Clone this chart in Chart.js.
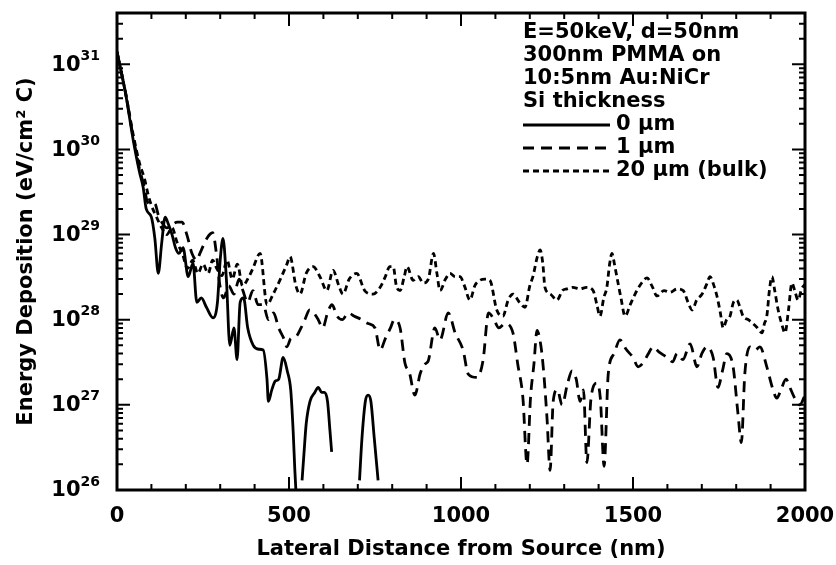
<!DOCTYPE html>
<html>
<head>
<meta charset="utf-8">
<script src="https://cdn.jsdelivr.net/npm/chart.js@4"></script>
<style>
  html, body { margin: 0; padding: 0; background: #fff; }
  #chart { display: block; }
</style>
</head>
<body>
<canvas id="chart" width="836" height="565"></canvas>
<script>
// lateral distance (nm) and energy deposition (eV/cm^2 C)
const seriesLabels = ['0 \u00b5m', '1 \u00b5m', '20 \u00b5m (bulk)'];

const si0X = [0, 25, 47, 65, 76, 85, 100, 110, 120, 130, 140, 150, 160, 170, 180, 192, 207, 221, 232, 245, 260, 279, 292, 300, 308, 318, 328, 340, 349, 358, 368, 380, 396, 412, 425, 436, 440, 450, 460, 470, 483, 495, 505, 512, 517, 524,
  530, 538, 543, 550, 561, 575, 585, 595, 603, 612, 619, 624,
  660, 705, 712, 722, 730, 738, 748, 759];
const si0Y = [1.4e31, 4.5e30, 1.3e30, 5.5e29, 3.6e29, 2.0e29, 1.6e29, 9e28, 3.5e28, 8e28, 1.6e29, 1.3e29, 1.0e29, 7e28, 6e28, 7e28, 3.2e28, 4.6e28, 1.6e28, 1.8e28, 1.4e28, 1.05e28, 1.6e28, 5e28, 9e28, 3e28, 5e27, 8e27, 3.4e27, 1.6e28, 1.8e28, 8e27, 5e27, 4.5e27, 4.4e27, 2e27, 1.1e27, 1.5e27, 1.9e27, 2e27, 3.6e27, 2.5e27, 1.5e27, 5e26, 1.7e26, 5e25,
  null, 1.3e26, 2.5e26, 6e26, 1.1e27, 1.4e27, 1.6e27, 1.4e27, 1.4e27, 1.1e27, 5e26, 2.8e26,
  null, 1.3e26, 4e26, 1.1e27, 1.3e27, 1.1e27, 4e26, 1.3e26];

const si1X = [0, 25, 47, 65, 80, 87, 98, 110, 120, 130, 145, 160, 175, 189, 203, 218, 232, 241, 261, 278, 290, 298, 310, 325, 340, 355, 366, 380, 395, 410, 425, 440, 455, 470, 485, 494, 505, 520, 535, 546, 560, 572, 585, 598, 612, 625, 640, 655, 672, 690, 712, 730, 750, 765, 780, 795, 806, 823, 837, 850, 866, 881, 895, 905, 924, 939, 963, 983, 1006, 1021, 1046, 1064, 1080, 1096, 1110, 1128, 1151, 1165, 1180, 1192, 1202, 1212, 1221, 1232, 1239, 1250, 1259, 1268, 1280, 1294, 1310, 1323, 1335, 1346, 1356, 1366, 1378, 1395, 1405, 1416, 1428, 1445, 1462, 1480, 1500, 1515, 1529, 1545, 1558, 1575, 1599, 1615, 1628, 1645, 1666, 1686, 1700, 1715, 1733, 1747, 1760, 1773, 1791, 1805, 1815, 1825, 1840, 1855, 1869, 1889, 1905, 1918, 1930, 1945, 1956, 1970, 1985, 2000];
const si1Y = [1.4e31, 4.6e30, 1.4e30, 6e29, 3.5e29, 2.5e29, 2.3e29, 2.3e29, 1.7e29, 1.4e29, 1.2e29, 1.3e29, 1.4e29, 1.4e29, 1.0e29, 6e28, 5e28, 6e28, 9e28, 1.05e29, 5.5e28, 2.7e28, 1.8e28, 2.5e28, 2e28, 3e28, 2.2e28, 1.6e28, 2.2e28, 1.5e28, 1.5e28, 1.0e28, 1.2e28, 8e27, 6e27, 4.8e27, 6e27, 6.3e27, 8e27, 1.0e28, 1.3e28, 1.2e28, 1.0e28, 8e27, 1.2e28, 1.5e28, 1.1e28, 1.0e28, 1.2e28, 1.1e28, 1.0e28, 9e27, 8e27, 4.4e27, 6e27, 8e27, 1.0e28, 8e27, 3.1e27, 2.4e27, 1.3e27, 2.3e27, 3e27, 3.3e27, 8e27, 5.8e27, 1.2e28, 7e27, 4.4e27, 2.3e27, 2.1e27, 3.3e27, 1.2e28, 1.0e28, 8e27, 9e27, 7e27, 3e27, 1.2e27, 2.0e26, 1.2e27, 3e27, 7.5e27, 5e27, 2.8e27, 7e26, 1.7e26, 1.1e27, 1.5e27, 1.0e27, 1.8e27, 2.5e27, 2.0e27, 1.1e27, 1.5e27, 2.1e26, 1.2e27, 1.8e27, 1.2e27, 1.9e26, 2.3e27, 4e27, 5.8e27, 4.5e27, 3.6e27, 2.8e27, 3.1e27, 4e27, 4.8e27, 4.2e27, 3.6e27, 3.2e27, 4e27, 3.4e27, 5.2e27, 2.8e27, 4e27, 4.8e27, 3.6e27, 1.6e27, 2.5e27, 4e27, 2.8e27, 8e26, 3.6e26, 2.3e27, 4.8e27, 4.4e27, 4.8e27, 2.8e27, 1.6e27, 1.2e27, 1.5e27, 2.0e27, 1.6e27, 1.2e27, 1.0e27, 1.3e27];

const si20X = [0, 25, 47, 65, 80, 90, 100, 115, 130, 145, 160, 175, 190, 205, 220, 235, 250, 265, 278, 290, 305, 320, 335, 350, 365, 380, 395, 416, 436, 454, 475, 494, 503, 520, 532, 550, 570, 590, 610, 628, 645, 657, 675, 697, 720, 744, 765, 780, 793, 803, 812, 823, 835, 843, 861, 876, 890, 905, 920, 930, 939, 955, 968, 983, 997, 1010, 1026, 1040, 1055, 1070, 1084, 1104, 1122, 1137, 1151, 1170, 1186, 1200, 1209, 1222, 1230, 1238, 1244, 1260, 1279, 1295, 1308, 1325, 1346, 1365, 1384, 1395, 1404, 1415, 1424, 1432, 1439, 1446, 1453, 1465, 1477, 1492, 1506, 1525, 1541, 1555, 1570, 1590, 1608, 1628, 1646, 1660, 1672, 1685, 1701, 1714, 1724, 1734, 1744, 1754, 1762, 1772, 1782, 1792, 1802, 1811, 1820, 1835, 1849, 1862, 1875, 1882, 1889, 1897, 1904, 1912, 1922, 1932, 1942, 1952, 1962, 1970, 1980, 1990, 2000];
const si20Y = [1.4e31, 4.6e30, 1.5e30, 7e29, 4.5e29, 3e29, 2.2e29, 1.6e29, 1.2e29, 1.0e29, 1.2e29, 8e28, 6e28, 4e28, 5e28, 3.5e28, 4.5e28, 3.5e28, 5e28, 4e28, 3.3e28, 5e28, 3e28, 4.5e28, 2.5e28, 3e28, 4e28, 6e28, 1.5e28, 2e28, 3e28, 4.5e28, 5.5e28, 2.5e28, 2e28, 3.5e28, 4.2e28, 3.2e28, 2.2e28, 3.8e28, 2.5e28, 2e28, 3e28, 3.5e28, 2.2e28, 2e28, 2.4e28, 3.2e28, 4.2e28, 4.2e28, 2.5e28, 2.2e28, 3.2e28, 4.2e28, 2.9e28, 3.2e28, 2.7e28, 3e28, 6e28, 3.5e28, 2.2e28, 3e28, 3.5e28, 3.2e28, 3.2e28, 2.5e28, 1.7e28, 2.5e28, 2.9e28, 3e28, 2.9e28, 1.3e28, 1.1e28, 1.7e28, 2e28, 1.6e28, 1.4e28, 2.5e28, 3.2e28, 5.5e28, 6.6e28, 4.5e28, 2.4e28, 2e28, 1.7e28, 2.2e28, 2.3e28, 2.4e28, 2.3e28, 2.4e28, 2.2e28, 1.5e28, 1.1e28, 1.8e28, 2.4e28, 4.5e28, 6e28, 4.5e28, 3.2e28, 1.8e28, 1.1e28, 1.5e28, 2e28, 2.7e28, 3.1e28, 2.5e28, 1.9e28, 2.2e28, 2.1e28, 2.3e28, 2.2e28, 1.6e28, 1.3e28, 1.7e28, 2e28, 2.6e28, 3.2e28, 2.6e28, 1.9e28, 1.2e28, 8e27, 1e28, 1.1e28, 1.6e28, 1.7e28, 1.4e28, 1.1e28, 1e28, 9e27, 8e27, 7e27, 9e27, 1.1e28, 2.3e28, 3.2e28, 2.2e28, 1.3e28, 9e27, 7e27, 1.3e28, 2.7e28, 2.2e28, 1.7e28, 2.3e28, 2.6e28];

// axis ticks and annotation text
const xTicks = [0, 500, 1000, 1500, 2000];
const yExponents = [26, 27, 28, 29, 30, 31];
const noteLines = ['E=50keV, d=50nm', '300nm PMMA on', '10:5nm Au:NiCr', 'Si thickness'];

const FONT = 'bold 21px "DejaVu Sans"';

function toPoints(xs, ys) {
    return xs.map((x, i) => ({ x: x, y: ys[i] }));
}

// frame with inward ticks on all four sides, y labels with exponents, notes + legend
const framePlugin = {
    id: 'framePlugin',
    afterDatasetsDraw(chart) {
        const { ctx, chartArea: a, scales: { x, y } } = chart;
        ctx.save();
        ctx.strokeStyle = '#000';
        ctx.lineWidth = 2;
        ctx.beginPath();
        for (let v = x.min; v <= x.max; v += 100) {
            const px = x.getPixelForValue(v);
            const len = xTicks.includes(v) ? 13 : 6;
            ctx.moveTo(px, a.bottom); ctx.lineTo(px, a.bottom - len);
            ctx.moveTo(px, a.top); ctx.lineTo(px, a.top + len);
        }
        for (const e of yExponents) {
            for (let m = 1; m <= 9; m++) {
                const v = m * Math.pow(10, e);
                if (v > y.max) break;
                const py = y.getPixelForValue(v);
                const len = m === 1 ? 13 : 6;
                ctx.moveTo(a.left, py); ctx.lineTo(a.left + len, py);
                ctx.moveTo(a.right, py); ctx.lineTo(a.right - len, py);
            }
        }
        ctx.stroke();
        ctx.lineWidth = 3;
        ctx.strokeRect(a.left, a.top, a.right - a.left, a.bottom - a.top);

        // y tick labels 10^n
        ctx.fillStyle = '#000';
        ctx.textBaseline = 'middle';
        for (const e of yExponents) {
            const py = y.getPixelForValue(Math.pow(10, e));
            ctx.font = 'bold 14px "DejaVu Sans"';
            const ew = ctx.measureText(String(e)).width;
            ctx.textAlign = 'right';
            ctx.fillText(String(e), a.left - 17, py - 8);
            ctx.font = FONT;
            ctx.fillText('10', a.left - 17 - ew, py + 1);
        }

        // notes
        ctx.font = FONT;
        ctx.textAlign = 'left';
        const tx = 523;
        noteLines.forEach((t, i) => ctx.fillText(t, tx, 33 + i * 23));

        // legend
        chart.data.datasets.forEach((ds, i) => {
            const ly = 125 + i * 23;
            ctx.save();
            ctx.lineWidth = ds.borderWidth;
            ctx.setLineDash(ds.borderDash || []);
            ctx.beginPath();
            ctx.moveTo(tx, ly);
            ctx.lineTo(tx + 87, ly);
            ctx.stroke();
            ctx.restore();
            ctx.fillText(ds.label, tx + 93, ly);
        });
        ctx.restore();
    }
};

Chart.defaults.font.family = '"DejaVu Sans"';
Chart.defaults.font.size = 21;
Chart.defaults.font.weight = 'bold';
Chart.defaults.color = '#000';

const ctx = document.getElementById('chart').getContext('2d');
new Chart(ctx, {
    type: 'line',
    data: {
        datasets: [{
            label: seriesLabels[0],
            data: toPoints(si0X, si0Y),
            borderColor: '#000',
            borderWidth: 2.8
        }, {
            label: seriesLabels[1],
            data: toPoints(si1X, si1Y),
            borderColor: '#000',
            borderWidth: 2.8,
            borderDash: [11, 7]
        }, {
            label: seriesLabels[2],
            data: toPoints(si20X, si20Y),
            borderColor: '#000',
            borderWidth: 2.8,
            borderDash: [6, 4]
        }]
    },
    options: {
        responsive: false,
        animation: false,
        layout: { padding: { top: 13, right: 31, left: 0, bottom: 0 } },
        elements: {
            point: { radius: 0 },
            line: { cubicInterpolationMode: 'monotone', fill: false }
        },
        plugins: {
            legend: { display: false },
            tooltip: { enabled: false }
        },
        scales: {
            x: {
                type: 'linear',
                min: 0,
                max: 2000,
                afterBuildTicks: (scale) => { scale.ticks = xTicks.map(v => ({ value: v })); },
                afterFit: (scale) => {
                    scale.height = 75;
                    scale.paddingLeft = 0;
                    scale.paddingRight = 0;
                },
                grid: { display: false, drawTicks: false },
                border: { display: false },
                ticks: { padding: 14, maxRotation: 0, callback: (v) => String(v) },
                title: {
                    display: true,
                    text: 'Lateral Distance from Source (nm)',
                    padding: { top: 0, bottom: 3 }
                }
            },
            y: {
                type: 'logarithmic',
                min: 1e26,
                max: 4e31,
                afterFit: (scale) => {
                    scale.width = 117;
                    scale.paddingTop = 0;
                    scale.paddingBottom = 0;
                },
                grid: { display: false, drawTicks: false },
                border: { display: false },
                ticks: { display: false },
                title: {
                    display: true,
                    text: 'Energy Deposition (eV/cm\u00b2 C)',
                    padding: { top: 14, bottom: 0 }
                }
            }
        }
    },
    plugins: [framePlugin]
});
</script>
</body>
</html>
